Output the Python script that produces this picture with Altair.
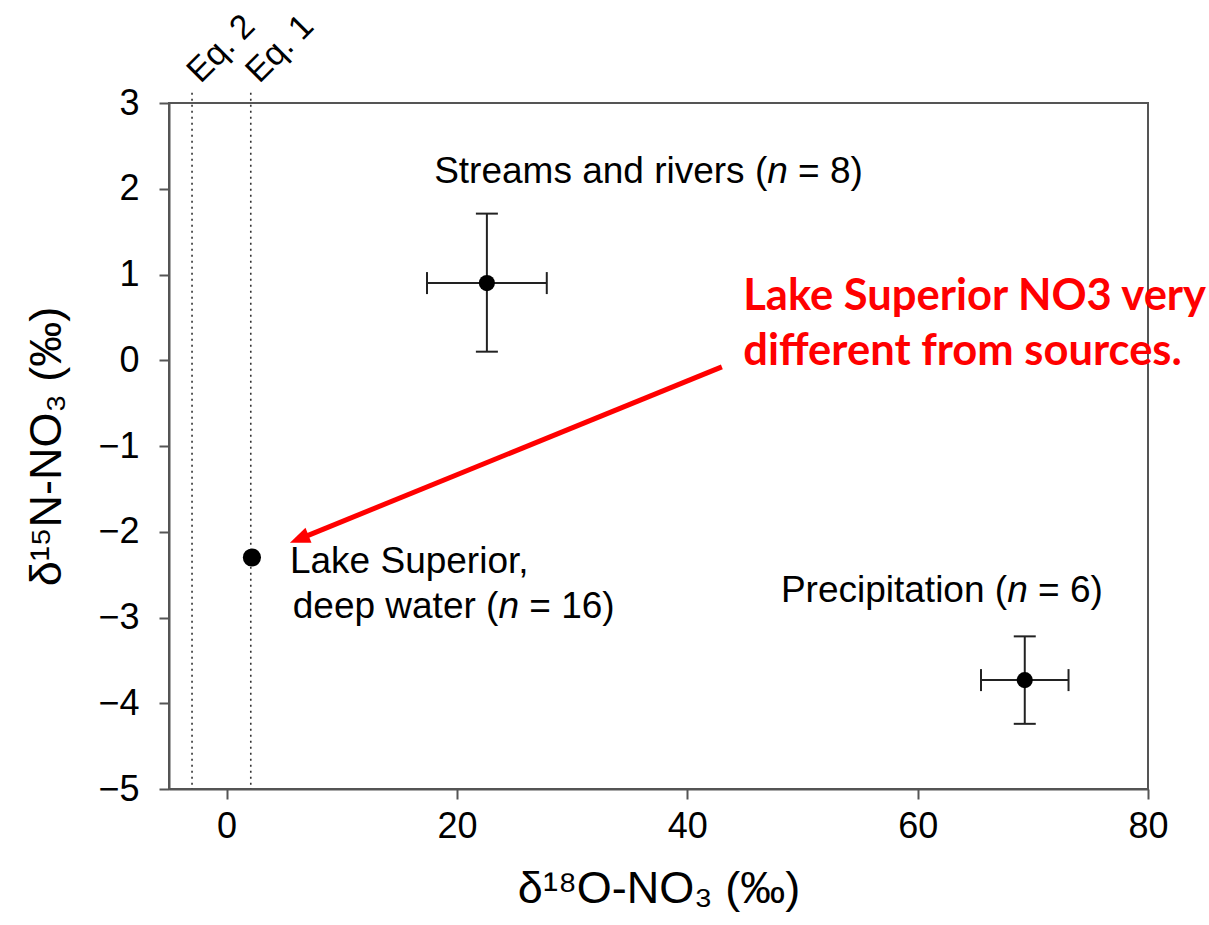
import altair as alt
import pandas as pd

# ---- data ----
pt_names = ["Streams and rivers", "Precipitation", "Lake Superior"]
pt_x = [22.6, 69.3, 2.2]
pt_y = [0.9, -3.73, -2.3]
pt_size = [260, 260, 330]

eb_x = [22.6, 69.3]
eb_y = [0.9, -3.73]
eb_x_lo = [17.4, 65.5]
eb_x_hi = [27.8, 73.1]
eb_y_lo = [0.1, -4.24]
eb_y_hi = [1.71, -3.22]

eq_x = [-3.0, 2.1]
eq_labels = ["Eq. 2", "Eq. 1"]
eq_top = 3.12
eq_bottom = -5.0

# labels with italic n: prefix | n | suffix, anchored where "n" starts
lab_x = [46.94, 67.77, 23.6]
lab_y = [2.064, -2.816, -3.008]
lab_pre = ["Streams and rivers (", "Precipitation (", "deep water ("]
lab_suf = ["= 8)", "= 6)", "= 16)"]
lake_line1 = ["Lake Superior,"]
lake_line1_x = [5.5]
lake_line1_y = [-2.48]

note_lines = ["Lake Superior NO3 very", "different from sources."]
note_x = [44.86, 44.86]
note_y = [0.584, -0.057]

arrow_start = (43.0, -0.077)
arrow_end = (6.71, -2.062)
arrow_tip = (5.5, -2.128)

x_ticks = [0, 20, 40, 60, 80]
y_ticks = [-5, -4, -3, -2, -1, 0, 1, 2, 3]

FONT = "Liberation Sans"
LAB_FS = 37

xs = alt.Scale(domain=[-5, 80], nice=False, zero=False)
ys = alt.Scale(domain=[-5, 3], nice=False, zero=False)

xax = alt.Axis(values=x_ticks, title="δ¹⁸O-NO₃ (‰)", grid=False, tickSize=10, tickWidth=2,
               tickColor="#555", domainColor="#555", domainWidth=2, labelFontSize=36,
               labelFont=FONT, labelColor="black", labelPadding=10, titleFontSize=45,
               titleFont=FONT, titleFontWeight="normal", titleColor="black", titlePadding=22,
               labelFlush=False)
yax = alt.Axis(values=y_ticks, title="δ¹⁵N-NO₃ (‰)", grid=False, tickSize=10, tickWidth=2,
               tickColor="#555", domainColor="#555", domainWidth=2, labelFontSize=36,
               labelFont=FONT, labelColor="black", labelPadding=20, titleFontSize=45,
               titleFont=FONT, titleFontWeight="normal", titleColor="black", titlePadding=28,
               labelFlush=False, labelExpr="replace(datum.label, '-', '−')")


def X(f):
    return alt.X(f"{f}:Q", scale=xs, axis=xax)


def Y(f):
    return alt.Y(f"{f}:Q", scale=ys, axis=yax)


pts = pd.DataFrame({"name": pt_names, "x": pt_x, "y": pt_y, "s": pt_size})
eb = pd.DataFrame({"x": eb_x, "y": eb_y, "xlo": eb_x_lo, "xhi": eb_x_hi, "ylo": eb_y_lo, "yhi": eb_y_hi})
xcaps = pd.DataFrame({"x": eb_x_lo + eb_x_hi, "y": eb_y + eb_y})
ycaps = pd.DataFrame({"x": eb_x + eb_x, "y": eb_y_lo + eb_y_hi})
eq = pd.DataFrame({"x": eq_x, "label": eq_labels, "y": [eq_top] * 2, "y2": [eq_bottom] * 2})
labs = pd.DataFrame({"x": lab_x, "y": lab_y, "pre": lab_pre, "suf": lab_suf, "n": ["n"] * 3})
lake1 = pd.DataFrame({"x": lake_line1_x, "y": lake_line1_y, "t": lake_line1})
note = pd.DataFrame({"x": note_x, "y": note_y, "t": note_lines})
arrow = pd.DataFrame({"x": [arrow_start[0]], "y": [arrow_start[1]], "x2": [arrow_end[0]], "y2": [arrow_end[1]]})
head = pd.DataFrame({"x": [arrow_tip[0]], "y": [arrow_tip[1]]})

eq_rules = alt.Chart(eq).mark_rule(color="#333", strokeWidth=1.6, strokeDash=[2, 4]).encode(
    x=X("x"), y=Y("y"), y2="y2")
eq_text = alt.Chart(eq).mark_text(font=FONT, fontSize=34, angle=315, align="left",
                                  baseline="alphabetic", dx=12, dy=0, color="black").encode(
    x=X("x"), y=Y("y"), text="label")

xbars = alt.Chart(eb).mark_rule(color="#222", strokeWidth=2).encode(x=X("xlo"), x2="xhi", y=Y("y"))
ybars = alt.Chart(eb).mark_rule(color="#222", strokeWidth=2).encode(x=X("x"), y=Y("ylo"), y2="yhi")
xcap = alt.Chart(xcaps).mark_tick(orient="vertical", size=22, thickness=2, color="#222", opacity=1).encode(
    x=X("x"), y=Y("y"))
ycap = alt.Chart(ycaps).mark_tick(orient="horizontal", size=22, thickness=2, color="#222", opacity=1).encode(
    x=X("x"), y=Y("y"))
dots = alt.Chart(pts).mark_circle(color="black", opacity=1).encode(
    x=X("x"), y=Y("y"), size=alt.Size("s:Q", scale=None, legend=None))

SP = 0.278 * LAB_FS
pre = alt.Chart(labs).mark_text(font=FONT, fontSize=LAB_FS, align="right", baseline="alphabetic",
                                color="black").encode(x=X("x"), y=Y("y"), text="pre")
nit = alt.Chart(labs).mark_text(font=FONT, fontSize=LAB_FS, fontStyle="italic", align="left",
                                baseline="alphabetic", color="black").encode(x=X("x"), y=Y("y"), text="n")
suf = alt.Chart(labs).mark_text(font=FONT, fontSize=LAB_FS, align="left", baseline="alphabetic",
                                dx=0.556 * LAB_FS + SP, color="black").encode(x=X("x"), y=Y("y"), text="suf")
lake = alt.Chart(lake1).mark_text(font=FONT, fontSize=LAB_FS, align="left", baseline="alphabetic",
                                  color="black").encode(x=X("x"), y=Y("y"), text="t")

note_t = alt.Chart(note).mark_text(font="Lato", fontSize=43.5, fontWeight="bold", align="left",
                                   baseline="alphabetic", color="#FF0000").encode(x=X("x"), y=Y("y"), text="t")
arrow_l = alt.Chart(arrow).mark_rule(color="#FF0000", strokeWidth=5).encode(
    x=X("x"), y=Y("y"), x2="x2", y2="y2")
arrow_h = alt.Chart(head).mark_point(shape="M0,0L0.8,2L-0.8,2Z", angle=248, size=400, filled=True,
                                     color="#FF0000", opacity=1, strokeWidth=0).encode(x=X("x"), y=Y("y"))

chart = alt.layer(eq_rules, eq_text, xbars, ybars, xcap, ycap, dots, pre, nit, suf, lake,
                  arrow_l, arrow_h, note_t).properties(
    width=979, height=686,
    padding={"left": 169, "top": 103, "right": 61, "bottom": 136},
    autosize=alt.AutoSizeParams(type="none"),
    background="white",
).configure_view(stroke="#555", strokeWidth=2)

chart.save("out.html", embed_options={"renderer": "svg", "actions": False})
